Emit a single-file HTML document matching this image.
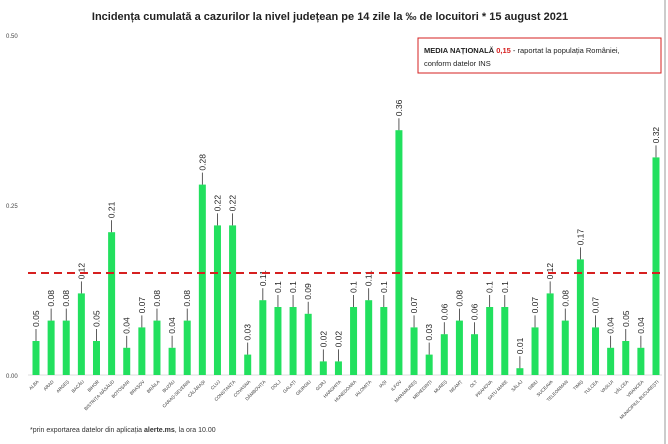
<!DOCTYPE html>
<html><head><meta charset="utf-8"><style>
body{margin:0;background:#fff;font-family:"Liberation Sans",sans-serif}
svg{display:block}
</style></head><body>
<svg width="668" height="444" viewBox="0 0 668 444">
<rect x="0" y="0" width="668" height="444" fill="#fff"/>
<line x1="665" y1="0" x2="665" y2="444" stroke="#ccc" stroke-width="2"/>
<text x="330" y="20" text-anchor="middle" font-size="11" font-weight="bold" fill="#222">Incidența cumulată a cazurilor la nivel județean pe 14 zile la ‰ de locuitori *  15 august 2021</text>
<g id="axis"></g>
<g id="bars"></g>
<g id="labels"></g>
<g id="cats"></g>
<line id="mean" stroke="#d62020" stroke-width="2" stroke-dasharray="8,5"/>
<rect x="418" y="38" width="243" height="35" fill="#fff" stroke="#d62020" stroke-width="1"/>
<text x="424" y="53" font-size="7.5" fill="#222"><tspan font-weight="bold">MEDIA NAȚIONALĂ </tspan><tspan font-weight="bold" fill="#d62020">0,15</tspan> - raportat la populația României,</text>
<text x="424" y="66" font-size="7.5" fill="#222">conform datelor INS</text>
<text x="30" y="432" font-size="7" fill="#333">*prin exportarea datelor din aplicația <tspan font-weight="bold">alerte.ms</tspan>, la ora 10.00</text>
</svg>
<script>
const categories=["ALBA","ARAD","ARGEȘ","BACĂU","BIHOR","BISTRIȚA-NĂSĂUD","BOTOȘANI","BRAȘOV","BRĂILA","BUZĂU","CARAȘ-SEVERIN","CĂLĂRAȘI","CLUJ","CONSTANȚA","COVASNA","DÂMBOVIȚA","DOLJ","GALAȚI","GIURGIU","GORJ","HARGHITA","HUNEDOARA","IALOMIȚA","IAȘI","ILFOV","MARAMUREȘ","MEHEDINȚI","MUREȘ","NEAMȚ","OLT","PRAHOVA","SATU MARE","SĂLAJ","SIBIU","SUCEAVA","TELEORMAN","TIMIȘ","TULCEA","VASLUI","VÂLCEA","VRANCEA","MUNICIPIUL BUCUREȘTI"];
const values=[0.05,0.08,0.08,0.12,0.05,0.21,0.04,0.07,0.08,0.04,0.08,0.28,0.22,0.22,0.03,0.11,0.1,0.1,0.09,0.02,0.02,0.1,0.11,0.1,0.36,0.07,0.03,0.06,0.08,0.06,0.1,0.1,0.01,0.07,0.12,0.08,0.17,0.07,0.04,0.05,0.04,0.32];
const valueLabels=["0.05","0.08","0.08","0.12","0.05","0.21","0.04","0.07","0.08","0.04","0.08","0.28","0.22","0.22","0.03","0.11","0.1","0.1","0.09","0.02","0.02","0.1","0.11","0.1","0.36","0.07","0.03","0.06","0.08","0.06","0.1","0.1","0.01","0.07","0.12","0.08","0.17","0.07","0.04","0.05","0.04","0.32"];
const yTicks=[0,0.25,0.5];
const yTickLabels=["0.00","0.25","0.50"];
const nationalMean=0.15;
const NS="http://www.w3.org/2000/svg";
const y0=375,yTop=35,yMax=0.5;
const y=v=>y0-(v/yMax)*(y0-yTop);
const x0=36,x1=656;
const x=i=>x0+i*(x1-x0)/(categories.length-1);
function mk(t,a,p){const e=document.createElementNS(NS,t);for(const k in a)e.setAttribute(k,a[k]);document.getElementById(p).appendChild(e);return e;}
yTicks.forEach((t,i)=>{
 const e=mk("text",{x:6,y:y(t)+3,"font-size":"6","fill":"#444"},"axis");
 e.textContent=yTickLabels[i];
 
 
});
const ax=mk("line",{x1:28,x2:662,y1:y0,y2:y0,stroke:"#ddd","stroke-width":1},"axis");


values.forEach((v,i)=>{
 const b=mk("rect",{x:x(i)-3.5,y:y(v),width:7,height:y0-y(v),fill:"#22e05e"},"bars");
 
 
 const ld=mk("line",{x1:x(i),x2:x(i),y1:y(v)-12,y2:y(v),stroke:"#333","stroke-width":0.8},"labels");
 
 
 const ty=y(v)-14;
 const t=mk("text",{x:x(i)+3,y:ty,"font-size":"8.5","fill":"#222",transform:`rotate(-90 ${x(i)+3} ${ty})`},"labels");
 t.textContent=valueLabels[i];
 
 
 const cx=x(i)+3,cy=y0+7;
 const c=mk("text",{x:cx,y:cy,"font-size":"4.5","fill":"#333","text-anchor":"end",transform:`rotate(-45 ${cx} ${cy})`},"cats");
 c.textContent=categories[i];
 
 
});
const m=document.getElementById("mean");
m.setAttribute("x1",28);m.setAttribute("x2",660);
m.setAttribute("y1",y(nationalMean));m.setAttribute("y2",y(nationalMean));
</script>
</body></html>
